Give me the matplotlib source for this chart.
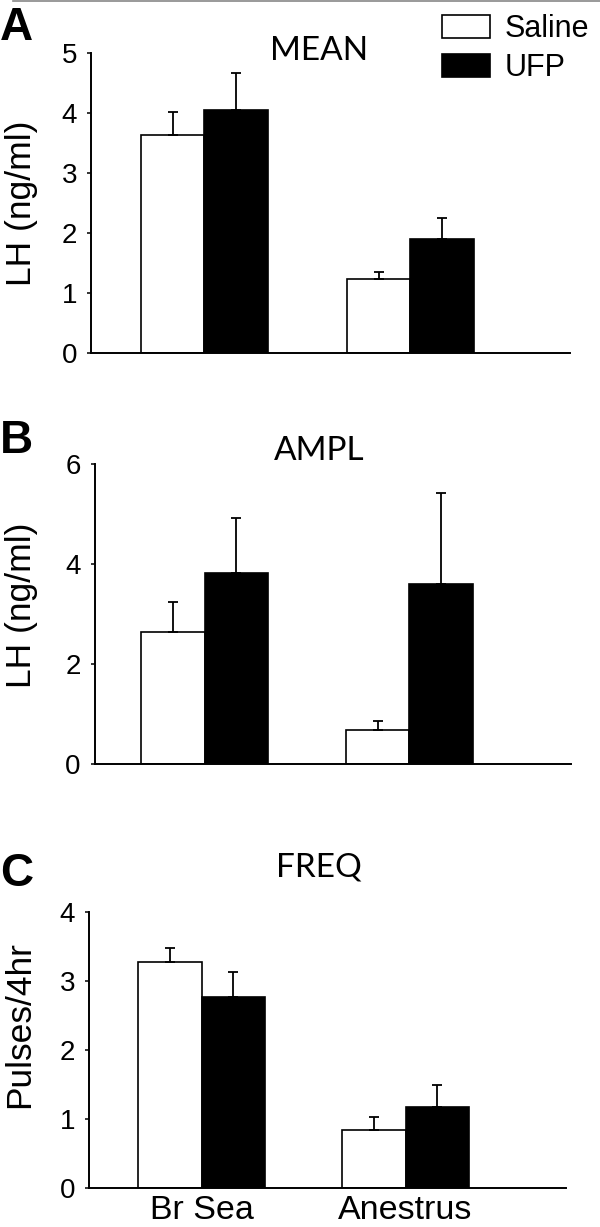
import matplotlib
matplotlib.use("Agg")
import matplotlib.pyplot as plt
from matplotlib.lines import Line2D
import numpy as np

groups = ["Br Sea", "Anestrus"]
series = ["Saline", "UFP"]

mean_saline = [3.63, 1.23]
mean_saline_err = [0.38, 0.13]
mean_ufp = [4.05, 1.91]
mean_ufp_err = [0.62, 0.34]

ampl_saline = [2.64, 0.69]
ampl_saline_err = [0.61, 0.18]
ampl_ufp = [3.83, 3.61]
ampl_ufp_err = [1.10, 1.82]

freq_saline = [3.27, 0.83]
freq_saline_err = [0.20, 0.20]
freq_ufp = [2.77, 1.17]
freq_ufp_err = [0.36, 0.32]

REG = "Liberation Sans"
TITLE = "Lato"

fig = plt.figure(figsize=(6, 12.27), dpi=100)

# rect, letter, letter baseline (fig frac), title, title pos, ylabel, ylabel pos, ymax, yticks, xlim, data
panels = [
    ([0.1517, 0.7121, 0.798, 0.2447], "A", 0.9674, "MEAN", (0.476, 0.977), "LH (ng/ml)",
     (-0.111, 0.50), 5, [0, 1, 2, 3, 4, 5], (-0.551, 1.774),
     (mean_saline, mean_saline_err, mean_ufp, mean_ufp_err)),
    ([0.1575, 0.3773, 0.794, 0.2445], "B", 0.6308, "AMPL", (0.472, 1.013), "LH (ng/ml)",
     (-0.119, 0.53), 6, [0, 2, 4, 6], (-0.537, 1.788),
     (ampl_saline, ampl_saline_err, ampl_ufp, ampl_ufp_err)),
    ([0.1483, 0.0320, 0.795, 0.2250], "C", 0.2779, "FREQ", (0.481, 1.127), "Pulses/4hr",
     (-0.111, 0.59), 4, [0, 1, 2, 3, 4], (-0.552, 1.786),
     (freq_saline, freq_saline_err, freq_ufp, freq_ufp_err)),
]

x = np.arange(len(groups))
w = 0.31
axes = []
for rect, letter, lety, title, tpos, ylabel, ypos, ymax, yticks, xlim, (s, se, u, ue) in panels:
    ax = fig.add_axes(rect)
    axes.append(ax)
    ax.bar(x - w / 2, s, w, color="white", edgecolor="black", linewidth=1.2,
           label=series[0], zorder=2)
    ax.bar(x + w / 2, u, w, color="black", edgecolor="black", linewidth=1.2,
           label=series[1], zorder=2)
    ax.errorbar(x - w / 2, s, yerr=[np.zeros(len(s)), se], fmt="none",
                ecolor="black", elinewidth=1.3, capsize=3.8, capthick=1.3, zorder=3)
    ax.errorbar(x + w / 2, u, yerr=[np.zeros(len(u)), ue], fmt="none",
                ecolor="black", elinewidth=1.3, capsize=3.8, capthick=1.3, zorder=1)
    ax.set_xlim(*xlim)
    ax.set_ylim(0, ymax)
    ax.set_yticks(yticks)
    for side in ("top", "right"):
        ax.spines[side].set_visible(False)
    for side in ("left", "bottom"):
        ax.spines[side].set_linewidth(1.4)
    ax.tick_params(axis="y", length=3, width=1.1, labelsize=20, pad=7)
    ax.tick_params(axis="x", length=0)
    for lbl in ax.get_yticklabels():
        lbl.set_fontfamily(REG)
    ax.set_xticks([])
    ax.set_ylabel(ylabel, fontsize=25.5, fontfamily=REG)
    ax.yaxis.set_label_coords(*ypos)
    ax.text(tpos[0], tpos[1], title, transform=ax.transAxes, ha="center",
            va="baseline", fontsize=24, fontfamily=TITLE)
    fig.text(0.0, lety, letter, fontsize=33, fontweight="bold", fontfamily=REG,
             va="baseline", ha="left")

# x labels only on bottom panel
axes[2].set_xticks(x)
axes[2].set_xticklabels(groups, fontsize=24.5, fontfamily=REG)
axes[2].tick_params(axis="x", pad=5)

axes[0].legend(loc="upper left", bbox_to_anchor=(442 / 600, 1 - 14 / 1227),
               bbox_transform=fig.transFigure, frameon=False,
               prop={"family": REG, "size": 22}, handlelength=1.57,
               handleheight=0.75, handletextpad=0.48, labelspacing=0.3,
               borderpad=0, borderaxespad=0)

fig.add_artist(Line2D([0.022, 1], [0.9995, 0.9995], color="#888888", linewidth=1.2))

fig.savefig("out.png", dpi=100)
